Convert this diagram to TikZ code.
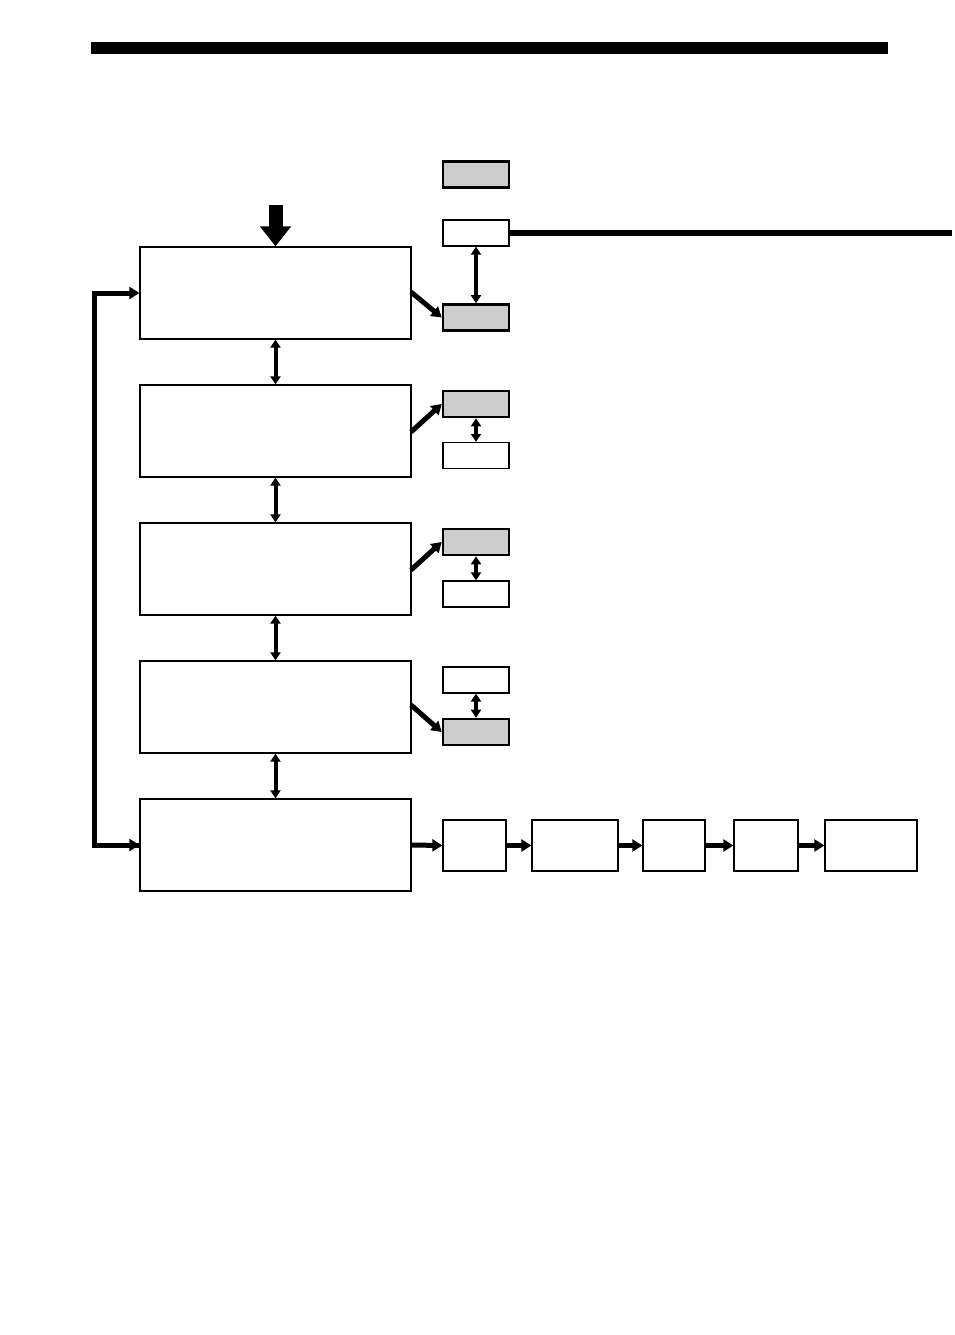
\documentclass[tikz,border=0pt]{standalone}
\usetikzlibrary{arrows.meta, positioning}
\tikzset{
stage/.style={draw, line width=1.3pt, minimum width=271pt, minimum height=92pt, inner sep=0pt}, % large boxes
mem/.style={draw, line width=1.3pt, minimum width=66pt, minimum height=26pt, inner sep=0pt}, % small white boxes
memg/.style={mem, fill=gray!40, line width=2.6pt}, % small grey boxes
step/.style={}, 
chain/.style={draw, line width=1.3pt, minimum height=51pt, inner sep=0pt}, % bottom row
flow/.style={-{Triangle[length=10pt,width=12pt]}, line width=5pt},
link/.style={{Triangle[length=8pt,width=10pt]}-{Triangle[length=8pt,width=10pt]}, line width=4pt},
}
\begin{document}
\begin{tikzpicture}[x=1pt, y=-1pt]
\useasboundingbox (0,0) rectangle (954,1335);
\fill (91,42) rectangle (888,54);
% main column
\node[stage] (s1) at (275.5,293) {};
\node[stage] (s2) at (275.5,431) {};
\node[stage] (s3) at (275.5,569) {};
\node[stage] (s4) at (275.5,707) {};
\node[stage] (s5) at (275.5,845) {};
\foreach \a/\b in {s1/s2, s2/s3, s3/s4, s4/s5}
    \draw[link] (\a) -- (\b);
\coordinate (in) at (275.5,205);
\draw[-{Triangle[length=20pt,width=30pt]}, line width=14pt] (in) -- (s1.north);
% feedback
\coordinate (fb) at (94,845);
\draw[flow] (s5.west) -- (fb) |- (s1.west);
\draw[flow] (fb) -- (s5.west);
% side boxes
\node[memg] (g0) at (476,174.5) {};
\node[mem] (w1) at (476,233) {};
\node[memg] (g1) at (476,317.5) {};
\node[memg] (g2) at (476,404) {};
\node[mem] (w2) at (476,455.5) {};
\node[memg] (g3) at (476,542) {};
\node[mem] (w3) at (476,594) {};
\node[mem] (w4) at (476,680) {};
\node[memg] (g4) at (476,732) {};
\coordinate (bus) at (952,233);
\draw[line width=6pt] (w1.east) -- (bus);
\draw[link] (w1) -- (g1);
\draw[link] (g2) -- (w2);
\draw[link] (g3) -- (w3);
\draw[link] (w4) -- (g4);
\draw[flow] (411,292) -- (g1.west);
\draw[flow] (411,432) -- (g2.west);
\draw[flow] (411,570) -- (g3.west);
\draw[flow] (411,705) -- (g4.west);
% bottom chain
\node[chain, minimum width=63pt] (c1) at (474.5,845.5) {};
\node[chain, minimum width=86pt] (c2) at (575,845.5) {};
\node[chain, minimum width=62pt] (c3) at (674,845.5) {};
\node[chain, minimum width=64pt] (c4) at (766,845.5) {};
\node[chain, minimum width=92pt] (c5) at (871,845.5) {};
\draw[flow] (s5.east) -- (c1.west);
\foreach \a/\b in {c1/c2, c2/c3, c3/c4, c4/c5}
    \draw[flow] (\a) -- (\b);
\end{tikzpicture}
\end{document}
